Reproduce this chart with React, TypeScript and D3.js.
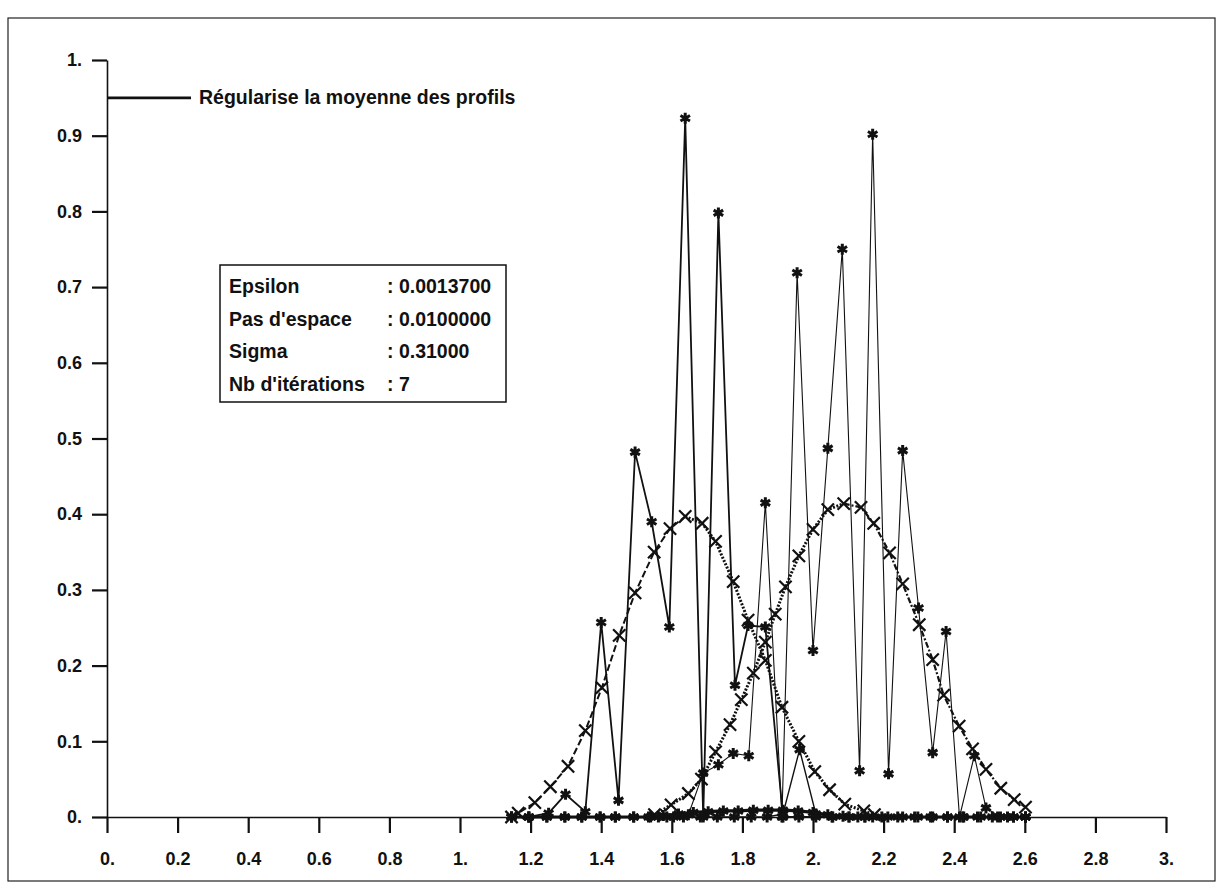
import { useEffect, useRef } from "react";
import * as d3 from "d3";

// axis ticks
const xTicks = [0, 0.2, 0.4, 0.6, 0.8, 1, 1.2, 1.4, 1.6, 1.8, 2, 2.2, 2.4, 2.6, 2.8, 3];
const xTickLabels = ["0.", "0.2", "0.4", "0.6", "0.8", "1.", "1.2", "1.4", "1.6", "1.8", "2.", "2.2", "2.4", "2.6", "2.8", "3."];
const yTicks = [0, 0.1, 0.2, 0.3, 0.4, 0.5, 0.6, 0.7, 0.8, 0.9, 1];
const yTickLabels = ["0.", "0.1", "0.2", "0.3", "0.4", "0.5", "0.6", "0.7", "0.8", "0.9", "1."];

// noisy profile, left group
const profilAX = [1.146, 1.195, 1.251, 1.299, 1.355, 1.4, 1.449, 1.496, 1.543, 1.593, 1.638, 1.689, 1.732, 1.779, 1.816, 1.865, 1.915, 1.96, 2.008, 2.056, 2.102, 2.147];
const profilAY = [0, 0, 0.005, 0.03, 0.007, 0.257, 0.022, 0.482, 0.39, 0.251, 0.923, 0, 0.798, 0.174, 0.253, 0.251, 0, 0, 0, 0, 0, 0];

// noisy profile, right group
const profilBX = [1.562, 1.605, 1.647, 1.689, 1.732, 1.774, 1.818, 1.865, 1.912, 1.955, 2.0, 2.042, 2.083, 2.132, 2.169, 2.214, 2.254, 2.299, 2.339, 2.377, 2.415, 2.457, 2.49, 2.531, 2.568, 2.602];
const profilBY = [0, 0, 0.003, 0.058, 0.069, 0.084, 0.081, 0.415, 0, 0.719, 0.22, 0.487, 0.75, 0.061, 0.902, 0.057, 0.484, 0.276, 0.085, 0.245, 0, 0.081, 0.012, 0, 0, 0];

// third profile, almost flat with one bump
const profilCX = [1.146, 1.195, 1.246, 1.297, 1.345, 1.397, 1.44, 1.492, 1.54, 1.586, 1.633, 1.681, 1.729, 1.777, 1.825, 1.87, 1.915, 1.962, 2.008, 2.054, 2.102, 2.147, 2.195, 2.24, 2.288, 2.333, 2.381, 2.427, 2.475, 2.523, 2.568, 2.602];
const profilCY = [0, 0, 0, 0, 0, 0, 0, 0, 0, 0, 0, 0, 0, 0, 0, 0, 0.004, 0.089, 0.004, 0, 0, 0, 0, 0, 0, 0, 0, 0, 0, 0, 0, 0];

// smoothed profiles (x markers)
const lisseAX = [1.146, 1.165, 1.212, 1.256, 1.306, 1.355, 1.402, 1.451, 1.496, 1.55, 1.595, 1.638, 1.686, 1.724, 1.774, 1.816, 1.865, 1.912, 1.96, 2.005, 2.047, 2.09, 2.144, 2.174];
const lisseAY = [0, 0.005, 0.019, 0.04, 0.067, 0.114, 0.171, 0.24, 0.296, 0.35, 0.381, 0.397, 0.388, 0.364, 0.311, 0.26, 0.207, 0.145, 0.1, 0.06, 0.036, 0.017, 0.008, 0.003];
const lisseAPeak = 11;
const lisseBX = [1.551, 1.598, 1.647, 1.684, 1.724, 1.765, 1.797, 1.831, 1.865, 1.893, 1.922, 1.96, 2.0, 2.042, 2.087, 2.136, 2.172, 2.217, 2.254, 2.301, 2.339, 2.37, 2.414, 2.452, 2.49, 2.532, 2.57, 2.602];
const lisseBY = [0.003, 0.016, 0.031, 0.05, 0.086, 0.122, 0.155, 0.19, 0.231, 0.268, 0.304, 0.345, 0.38, 0.406, 0.414, 0.409, 0.388, 0.349, 0.308, 0.254, 0.208, 0.161, 0.12, 0.09, 0.063, 0.038, 0.023, 0.013];
const lisseBPeak = 14;

// regularised mean of the profiles (thick line near zero)
const moyenneX = [1.146, 1.195, 1.246, 1.297, 1.345, 1.397, 1.44, 1.492, 1.534, 1.576, 1.619, 1.661, 1.703, 1.746, 1.788, 1.831, 1.873, 1.915, 1.958, 2.0, 2.042, 2.085, 2.127, 2.169, 2.212, 2.254, 2.297, 2.339, 2.381, 2.424, 2.466, 2.508, 2.551, 2.602];
const moyenneY = [0, 0, 0, 0, 0, 0, 0, 0, 0, 0.002, 0.004, 0.006, 0.007, 0.008, 0.008, 0.009, 0.009, 0.009, 0.008, 0.006, 0.003, 0.001, 0, 0, 0, 0, 0, 0, 0, 0, 0, 0, 0, 0];

const legendLabel = "Régularise la moyenne des profils";
const infoLabels = ["Epsilon", "Pas d'espace", "Sigma", "Nb d'itérations"];
const infoValues = [": 0.0013700", ": 0.0100000", ": 0.31000", ": 7"];

const W = 1222;
const H = 887;
const FONT = "'Liberation Sans', Arial, Helvetica, sans-serif";
const INK = "#111";

export default function App() {
  const ref = useRef<SVGSVGElement | null>(null);

  useEffect(() => {
    const svg = d3.select(ref.current);
    svg.selectAll("*").remove();

    const x = d3.scaleLinear().domain([0, 3]).range([107, 1166]);
    const y = d3.scaleLinear().domain([0, 1]).range([817, 60]);

    svg.append("rect").attr("width", W).attr("height", H).attr("fill", "#fff");

    // page frame
    svg
      .append("rect")
      .attr("x", 8)
      .attr("y", 18)
      .attr("width", 1207)
      .attr("height", 863)
      .attr("fill", "none")
      .attr("stroke", "#222")
      .attr("stroke-width", 1.2);

    // axes
    const yAxis = svg
      .append("g")
      .attr("transform", `translate(${x(0)},0)`)
      .call(
        d3
          .axisLeft(y)
          .tickValues(yTicks)
          .tickSize(15)
          .tickSizeOuter(0)
          .tickPadding(10)
          .tickFormat((d, i) => yTickLabels[i])
      );
    const xAxis = svg
      .append("g")
      .attr("transform", `translate(0,${y(0)})`)
      .call(
        d3
          .axisBottom(x)
          .tickValues(xTicks)
          .tickSize(16)
          .tickSizeOuter(0)
          .tickPadding(19)
          .tickFormat((d, i) => xTickLabels[i])
      );
    [yAxis, xAxis].forEach((g) => {
      g.select(".domain").attr("stroke", INK).attr("stroke-width", 1.6);
      g.selectAll(".tick line").attr("stroke", INK).attr("stroke-width", 2.2);
      g.selectAll(".tick text")
        .attr("fill", INK)
        .style("font-family", FONT)
        .style("font-weight", "bold")
        .style("font-size", "18px");
    });

    const line = d3
      .line<[number, number]>()
      .x((d) => x(d[0]))
      .y((d) => y(d[1]));
    const pts = (xs: number[], ys: number[]) => xs.map((v, i) => [v, ys[i]] as [number, number]);

    const star = d3.symbol().type(d3.symbolAsterisk).size(85);
    const cross = d3.symbol().type(d3.symbolTimes).size(100);

    const drawLine = (data: [number, number][], width: number, dash: string | null) => {
      svg
        .append("path")
        .attr("d", line(data))
        .attr("fill", "none")
        .attr("stroke", INK)
        .attr("stroke-width", width)
        .attr("stroke-dasharray", dash);
    };
    const drawMarks = (data: [number, number][], marker: any, width: number) => {
      svg
        .append("g")
        .selectAll("path")
        .data(data)
        .enter()
        .append("path")
        .attr("d", marker)
        .attr("transform", (d) => `translate(${x(d[0])},${y(d[1])})`)
        .attr("fill", "none")
        .attr("stroke", INK)
        .attr("stroke-width", width);
    };

    const moy = pts(moyenneX, moyenneY);
    const pC = pts(profilCX, profilCY);
    const lA = pts(lisseAX, lisseAY);
    const lB = pts(lisseBX, lisseBY);
    const pB = pts(profilBX, profilBY);
    const pA = pts(profilAX, profilAY);

    drawLine(moy, 3.2, null);
    drawLine(pC, 1.4, null);
    // smoothed curves: dashed on the outer flank, dotted on the inner flank
    drawLine(lA.slice(0, lisseAPeak + 1), 2, "7,3");
    drawLine(lA.slice(lisseAPeak), 3, "2,1.6");
    drawLine(lB.slice(0, lisseBPeak + 1), 3, "2,1.6");
    drawLine(lB.slice(lisseBPeak), 2.2, "6,2,2,2");
    drawLine(pB, 1.1, null);
    drawLine(pA, 1.8, null);

    drawMarks(moy, star, 3);
    drawMarks(pC, star, 3);
    drawMarks(lA, cross, 2.2);
    drawMarks(lB, cross, 2.2);
    drawMarks(pB, star, 3);
    drawMarks(pA, star, 3);

    // legend
    svg
      .append("line")
      .attr("x1", x(0))
      .attr("x2", 191)
      .attr("y1", y(0.95))
      .attr("y2", y(0.95))
      .attr("stroke", INK)
      .attr("stroke-width", 2.6);
    svg
      .append("text")
      .attr("x", 199)
      .attr("y", y(0.95) + 6)
      .attr("fill", INK)
      .style("font-family", FONT)
      .style("font-weight", "bold")
      .style("font-size", "19.5px")
      .text(legendLabel);

    // parameter box
    svg
      .append("rect")
      .attr("x", 220)
      .attr("y", 265)
      .attr("width", 286)
      .attr("height", 137)
      .attr("fill", "#fff")
      .attr("stroke", INK)
      .attr("stroke-width", 1.5);
    infoLabels.forEach((lab, i) => {
      const ty = 293 + i * 32.5;
      svg
        .append("text")
        .attr("x", 229)
        .attr("y", ty)
        .attr("fill", INK)
        .style("font-family", FONT)
        .style("font-weight", "bold")
        .style("font-size", "19.5px")
        .text(lab);
      svg
        .append("text")
        .attr("x", 387)
        .attr("y", ty)
        .attr("fill", INK)
        .style("font-family", FONT)
        .style("font-weight", "bold")
        .style("font-size", "19.5px")
        .text(infoValues[i]);
    });
  }, []);

  return (
    <svg
      ref={ref}
      width={W}
      height={H}
      style={{ position: "absolute", left: 0, top: 0 }}
    />
  );
}
